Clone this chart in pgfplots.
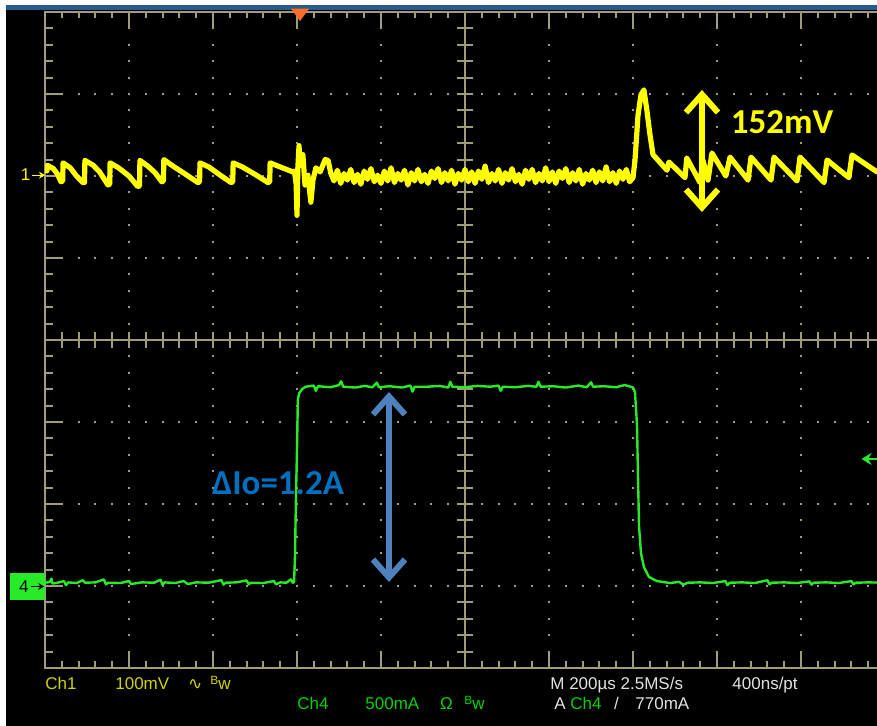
\documentclass[border=0pt]{standalone}
\usepackage{pgfplots}
\pgfplotsset{compat=1.18}
\usetikzlibrary{arrows.meta}
\usepackage{fontspec}
\setmainfont{Liberation Sans}
\newfontfamily\calib{Carlito}
\newfontfamily\dejavu{DejaVu Sans}

\definecolor{grat}{RGB}{160,155,120}
\definecolor{ch1}{RGB}{255,255,0}
\definecolor{ch4}{RGB}{40,235,40}
\definecolor{ch1txt}{RGB}{210,210,0}
\definecolor{ch4txt}{RGB}{0,210,0}
\definecolor{scrtxt}{RGB}{225,225,225}
\definecolor{annblue}{RGB}{0,112,192}
\definecolor{arrblue}{RGB}{79,129,189}
\definecolor{topbar}{RGB}{40,90,140}
\definecolor{trig}{RGB}{255,110,40}

% one screen division = 84 x 82 px, 1 px = 0.5pt
\pgfplotsset{
  screen/.style={scale only axis, width=420pt, height=328pt,
    at={(0pt,0pt)}, anchor=south west, hide axis},
  div/.style={screen, xmin=0, xmax=10, ymin=-4, ymax=4, clip=false},
}
\tikzset{
  scopetxt/.style={inner sep=0pt, anchor=base west, font=\fontsize{8.5}{10}\selectfont},
  bigtxt/.style={inner sep=0pt, font=\calib\bfseries\fontsize{17.5}{19}\selectfont},
}

\begin{document}
\begin{tikzpicture}
\path[use as bounding box] (-22.5pt,-29pt) rectangle (416pt,334pt);
\clip (-22.5pt,-29pt) rectangle (416pt,334pt);
\fill[black] (-22.5pt,-29pt) rectangle (416pt,334pt);
\fill[white] (-22.5pt,-29pt) rectangle (-19.5pt,334pt);
\fill[white] (-22.5pt,331.5pt) rectangle (416pt,334pt);
\fill[topbar] (-19.5pt,329pt) rectangle (416pt,331.5pt);

% graticule
\begin{axis}[div]
  \draw[grat, line width=1pt] (axis cs:0,-4) rectangle (axis cs:10,4);
  \draw[grat, line width=1pt] (axis cs:0,0) -- (axis cs:10,0);
  \draw[grat, line width=1pt] (axis cs:5,-4) -- (axis cs:5,4);
  % ticks on the centre cross
  \draw[grat, line width=8pt, dash pattern=on 1pt off 7.4pt, dash phase=0.5pt] (axis cs:0,0) -- (axis cs:10,0);
  \draw[grat, line width=8pt, dash pattern=on 1pt off 7.2pt, dash phase=0.5pt] (axis cs:5,-4) -- (axis cs:5,4);
  % ticks on the frame
  \draw[grat, line width=3pt, dash pattern=on 1pt off 7.4pt, dash phase=0.5pt] ([yshift=-1.5pt]axis cs:0,4) -- ([yshift=-1.5pt]axis cs:10,4);
  \draw[grat, line width=8pt, dash pattern=on 1pt off 41pt, dash phase=0.5pt] ([yshift=-4pt]axis cs:0,4) -- ([yshift=-4pt]axis cs:10,4);
  \draw[grat, line width=3.5pt, dash pattern=on 1pt off 7.4pt, dash phase=0.5pt] ([yshift=1.75pt]axis cs:0,-4) -- ([yshift=1.75pt]axis cs:10,-4);
  \draw[grat, line width=8pt, dash pattern=on 1pt off 41pt, dash phase=0.5pt] ([yshift=4pt]axis cs:0,-4) -- ([yshift=4pt]axis cs:10,-4);
  \draw[grat, line width=4pt, dash pattern=on 1pt off 7.2pt, dash phase=0.5pt] ([xshift=2pt]axis cs:0,-4) -- ([xshift=2pt]axis cs:0,4);
  \draw[grat, line width=9pt, dash pattern=on 1pt off 40pt, dash phase=0.5pt] ([xshift=4.5pt]axis cs:0,-4) -- ([xshift=4.5pt]axis cs:0,4);
  % dotted grid
  \draw[grat, line width=1pt, dash pattern=on 1pt off 7.2pt, dash phase=0.5pt]
    (axis cs:1,-4) -- (axis cs:1,4) (axis cs:2,-4) -- (axis cs:2,4)
    (axis cs:3,-4) -- (axis cs:3,4) (axis cs:4,-4) -- (axis cs:4,4)
    (axis cs:6,-4) -- (axis cs:6,4) (axis cs:7,-4) -- (axis cs:7,4)
    (axis cs:8,-4) -- (axis cs:8,4) (axis cs:9,-4) -- (axis cs:9,4);
  \draw[grat, line width=1pt, dash pattern=on 1pt off 7.4pt, dash phase=0.5pt]
    (axis cs:0,-3) -- (axis cs:10,-3) (axis cs:0,-2) -- (axis cs:10,-2)
    (axis cs:0,-1) -- (axis cs:10,-1) (axis cs:0,1) -- (axis cs:10,1)
    (axis cs:0,2) -- (axis cs:10,2) (axis cs:0,3) -- (axis cs:10,3);
\end{axis}

% Ch4: load current, 500 mA/div, zero at -3 div
\begin{axis}[screen, xmin=0, xmax=2000, ymin=-500, ymax=3500]
  \addplot[ch4, line width=1.2pt, line join=round] coordinates {
    (0,20) (12,25) (15,45) (18,15) (30,20) (45,30) (50,5) (55,22) (75,18)
    (90,35) (95,20) (120,22) (140,40) (145,10) (150,20) (180,18) (200,30)
    (205,12) (230,22) (260,20) (275,38) (280,8) (285,22) (310,18) (330,30)
    (340,12) (360,22) (390,20) (420,36) (425,8) (430,20) (455,22) (480,34)
    (485,10) (490,20) (520,18) (545,30) (550,10) (560,22) (575,20) (585,40)
    (590,20) (593,25)
    (595,160) (598,600) (600,830) (602,1134) (605,1175) (612,1200) (620,1215)
    (640,1222) (645,1190) (650,1218) (680,1212) (700,1225) (705,1248) (710,1215)
    (740,1210) (760,1220) (780,1212) (790,1240) (795,1212) (820,1218) (850,1210)
    (870,1222) (875,1185) (880,1215) (910,1215) (940,1220) (960,1210) (965,1245)
    (970,1215) (1000,1212) (1030,1220) (1060,1215) (1080,1222) (1085,1190)
    (1090,1215) (1120,1212) (1150,1220) (1170,1215) (1175,1245) (1180,1215)
    (1210,1218) (1240,1210) (1270,1222) (1290,1212) (1300,1242) (1305,1215)
    (1330,1218) (1360,1212) (1380,1225) (1395,1215) (1400,1210)
    (1404.8,1180) (1409.5,980) (1414.3,365) (1419,200) (1426,115) (1438,55)
    (1457,30) (1488,18)
    (1510,25) (1520,8) (1530,20) (1560,22) (1590,18) (1620,30) (1625,5)
    (1630,20) (1660,22) (1690,18) (1720,35) (1725,10) (1730,20) (1760,22)
    (1790,18) (1820,28) (1825,8) (1830,20) (1860,22) (1890,18) (1920,30)
    (1925,10) (1930,20) (1960,22) (2000,20)
  };
\end{axis}

% Ch1: output voltage, 100 mV/div, zero at +2 div
\begin{axis}[screen, xmin=0, xmax=2000, ymin=-600, ymax=200]
  \addplot[ch1, line width=2.6pt, line join=round] coordinates {
    (0,8) (4.8,6) (5.5,13) (20,9) (30,2) (38,-7) (42,-6) (43,16) (60,10)
    (75,0) (90,-8) (94,-8) (95,19) (115,13) (130,5) (150,-11) (154,-10)
    (155,16) (175,10) (200,0) (221,-13) (225,-12) (226,19) (245,12) (262,4)
    (278,-7) (282,-6) (283,20) (305,12) (335,2) (364,-8) (368,-7) (369,16)
    (390,11) (420,0) (443,-8) (447,-7) (448,16) (470,11) (500,2) (531,-8)
    (535,-7) (536,16) (560,11) (590,5)
    (594,6) (598,-10) (600,-48) (602,10) (604.8,37) (607,20) (609.5,13)
    (614,26) (619,-11) (626,1) (633,-32) (638,-5) (645,10) (655,5) (667,20)
    (674,19) (679,7)
    (680,4) (688,-6) (696,7) (704,-9) (712,3) (720,-5) (728,8) (736,-8)
    (744,2) (752,-10) (760,6) (768,-4) (776,9) (784,-7) (792,1) (800,-9)
    (808,6) (816,-6) (824,10) (832,-8) (840,3) (848,-5) (856,7) (864,-11)
    (872,4) (880,-6) (888,8) (896,-7) (904,2) (912,-9) (920,6) (928,-3)
    (936,9) (944,-8) (952,4) (960,-6) (968,7) (976,-10) (984,3) (992,-5)
    (1000,8) (1008,-7) (1016,5) (1024,-9) (1032,6) (1040,-4) (1048,12)
    (1056,-8) (1064,3) (1072,-6) (1080,8) (1088,-9) (1096,4) (1104,-5)
    (1112,9) (1120,-7) (1128,2) (1136,-10) (1144,7) (1152,-4) (1160,8)
    (1168,-8) (1176,3) (1184,-6) (1192,10) (1200,-7) (1208,5) (1216,-9)
    (1224,6) (1232,-3) (1240,9) (1248,-8) (1256,4) (1264,-6) (1272,8)
    (1280,-10) (1288,3) (1296,-5) (1304,7) (1312,-8) (1320,5) (1328,-6)
    (1336,11) (1344,-7) (1352,4) (1360,-9) (1368,6) (1376,-4) (1384,8)
    (1392,-7) (1400,-2)
    (1404.8,19.5) (1411.9,74) (1419,99) (1426,105) (1433,80) (1440.5,50)
    (1447.6,26) (1454.8,22) (1481,7) (1485.7,17) (1523.8,-2) (1528,22)
    (1559.5,-8) (1566.7,19) (1578.6,-5) (1588,28) (1621,0) (1631,23)
    (1674,-5) (1681,23) (1728.6,-5) (1735.7,23) (1790.5,-6) (1797.6,23)
    (1854.8,-8) (1862,19.5) (1914,-2) (1921.4,25.6) (1981,5) (2000,3)
  };
\end{axis}

% markers, annotations and readouts
\begin{axis}[div]
  \fill[trig] (axis cs:2.929,4.04) -- (axis cs:3.143,4.04) -- (axis cs:3.036,3.89) -- cycle;
  \node[ch1, scopetxt, anchor=base east] at (axis cs:-0.17,1.94) {1};
  \draw[ch1, line width=0.6pt, -{Stealth[length=3pt, width=3.5pt]}] (axis cs:-0.15,2.01) -- (axis cs:0,2.01);
  \fill[ch4] (axis cs:-0.417,-2.841) rectangle (axis cs:0,-3.171);
  \node[black, scopetxt, anchor=base east] at (axis cs:-0.19,-3.08) {4};
  \draw[black, line width=0.6pt, -{Stealth[length=3pt, width=3.5pt]}] (axis cs:-0.17,-3.006) -- (axis cs:-0.01,-3.006);
  \draw[ch4, line width=1pt, -{Stealth[length=5pt, width=6pt]}] (axis cs:9.95,-1.451) -- (axis cs:9.72,-1.451);

  \draw[ch1, line width=3pt, {Straight Barb[length=9pt, width=16pt]}-{Straight Barb[length=9pt, width=16pt]}]
    (axis cs:7.821,3.049) -- (axis cs:7.821,1.561);
  \node[ch1, bigtxt] at (axis cs:8.774,2.66) {152mV};
  \draw[arrblue, line width=3pt, {Straight Barb[length=9pt, width=16pt]}-{Straight Barb[length=9pt, width=16pt]}]
    (axis cs:4.095,-0.634) -- (axis cs:4.095,-2.951);
  \node[annblue, bigtxt] at (axis cs:2.774,-1.744) {ΔIo=1.2A};

  \node[ch1txt, scopetxt] at (axis cs:0,-4.268) {Ch1};
  \node[ch1txt, scopetxt] at (axis cs:0.833,-4.268) {100mV};
  \node[ch1txt, scopetxt] at (axis cs:1.70,-4.268) {\dejavu ∿};
  \node[ch1txt, scopetxt] at (axis cs:1.964,-4.268) {{\fontsize{6}{7}\selectfont\raisebox{2.5pt}{B}}w};
  \node[ch4txt, scopetxt] at (axis cs:3.0,-4.512) {Ch4};
  \node[ch4txt, scopetxt] at (axis cs:3.81,-4.512) {500mA};
  \node[ch4txt, scopetxt] at (axis cs:4.70,-4.512) {Ω};
  \node[ch4txt, scopetxt] at (axis cs:4.988,-4.512) {{\fontsize{6}{7}\selectfont\raisebox{2.5pt}{B}}w};
  \node[scrtxt, scopetxt] at (axis cs:6.012,-4.268) {M 200µs 2.5MS/s};
  \node[scrtxt, scopetxt] at (axis cs:8.179,-4.268) {400ns/pt};
  \node[scrtxt, scopetxt] at (axis cs:6.06,-4.512) {A};
  \node[ch4txt, scopetxt] at (axis cs:6.25,-4.512) {Ch4};
  \node[scrtxt, scopetxt] at (axis cs:6.77,-4.512) {/};
  \node[scrtxt, scopetxt] at (axis cs:7.024,-4.512) {770mA};
\end{axis}
\end{tikzpicture}
\end{document}
